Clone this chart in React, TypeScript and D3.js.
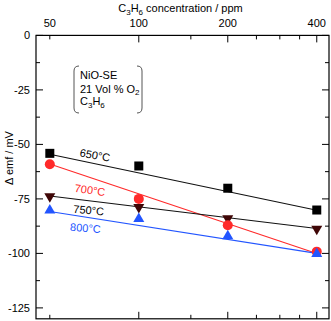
import React from 'react';
import * as d3 from 'd3';

// C3H6 concentration (ppm) and measured Δ emf (mV) per temperature
const conc = [50, 100, 200, 400];
const emf650 = [-54.1, -59.9, -70.1, -80.1];
const emf700 = [-59.1, -75.0, -87.1, -99.2];
const emf750 = [-74.4, -79.3, -84.4, -89.3];
const emf800 = [-79.8, -83.6, -91.6, -99.7];

// fitted lines, values at 50 and 400 ppm
const fitX = [50, 400];
const fit650 = [-54.5, -80.2];
const fit700 = [-59, -100];
const fit750 = [-73.7, -88.6];
const fit800 = [-80.8, -100];

const xTickLabels = [50, 100, 200, 400];
const xMajorTicks = [100, 200, 400];
const xMinorTicks = [50, 150, 250, 300, 350];
const yMajorTicks = [0, -25, -50, -75, -100, -125];
const yMinorTicks = [-12.5, -37.5, -62.5, -87.5, -112.5];

const W = 331;
const H = 321;
const left = 36, right = 329, top = 35.4, bottom = 318.8;

const x = d3.scaleLog().domain([44.9, 440]).range([left, right]);
const y = d3.scaleLinear().domain([0, -130]).range([top, bottom]);

const font = 'Liberation Sans, Arial, Helvetica, sans-serif';

const RED = '#ff2a2a';
const BLUE = '#2255ff';
const MAROON = '#3f0606';

const line = d3.line<[number, number]>().x(d => x(d[0])).y(d => y(d[1]));

const Square = ({ cx, cy }: { cx: number; cy: number }) => (
  <rect x={cx - 4.5} y={cy - 4.5} width={9} height={9} fill="#000" />
);

const triangle = (cx: number, cy: number, up: boolean) => {
  const h = 8.5, w = 5.5;
  return up
    ? `M${cx},${cy - h / 2 - 1}L${cx + w},${cy + h / 2}L${cx - w},${cy + h / 2}Z`
    : `M${cx},${cy + h / 2 + 1}L${cx + w},${cy - h / 2}L${cx - w},${cy - h / 2}Z`;
};

export default function App() {
  const fits = [
    { v: fit650, color: '#111' },
    { v: fit700, color: RED },
    { v: fit750, color: '#111' },
    { v: fit800, color: BLUE },
  ];

  const labels = [
    { text: '650°C', at: [71.1, -54.9], rot: 10, color: '#000' },
    { text: '700°C', at: [68.4, -70.9], rot: 8, color: RED },
    { text: '750°C', at: [67.7, -80.1], rot: 5, color: '#000' },
    { text: '800°C', at: [66.0, -88.3], rot: 4, color: BLUE },
  ];

  return (
    <svg width={W} height={H} style={{ position: 'absolute', left: 0, top: 0 }} fontFamily={font}>
      <rect width={W} height={H} fill="#fff" />

      {/* title */}
      <text x={180.5} y={12} fontSize={11} textAnchor="middle">
        C<tspan fontSize={8} dy={2.5}>3</tspan><tspan dy={-2.5}>H</tspan>
        <tspan fontSize={8} dy={2.5}>6</tspan><tspan dy={-2.5}> concentration / ppm</tspan>
      </text>

      {/* x tick labels (top) */}
      {xTickLabels.map(t => (
        <text key={t} x={x(t)} y={27} fontSize={11} textAnchor="middle">{t}</text>
      ))}

      {/* y tick labels */}
      {yMajorTicks.map(t => (
        <text key={t} x={30} y={y(t)} fontSize={11} textAnchor="end" dominantBaseline="central">{t}</text>
      ))}

      <text transform={`translate(9,158) rotate(-90)`} fontSize={11} textAnchor="middle" dominantBaseline="central">
        Δ emf / mV
      </text>

      {/* fitted lines */}
      {fits.map((f, i) => (
        <path key={i} d={line([[fitX[0], f.v[0]], [fitX[1], f.v[1]]]) || ''} stroke={f.color} strokeWidth={1.1} fill="none" />
      ))}

      {/* markers */}
      {conc.map((c, i) => (
        <path key={'d' + i} d={triangle(x(c), y(emf750[i]), false)} fill={MAROON} />
      ))}
      {conc.map((c, i) => (
        <circle key={'c' + i} cx={x(c)} cy={y(emf700[i])} r={5} fill={RED} />
      ))}
      {conc.map((c, i) => (
        <path key={'u' + i} d={triangle(x(c), y(emf800[i]), true)} fill={BLUE} />
      ))}
      {conc.map((c, i) => (
        <Square key={'s' + i} cx={x(c)} cy={y(emf650[i])} />
      ))}

      {/* series labels */}
      {labels.map(l => (
        <text
          key={l.text}
          transform={`translate(${x(l.at[0])},${y(l.at[1])}) rotate(${l.rot})`}
          fontSize={11}
          fill={l.color}
          textAnchor="middle"
          dominantBaseline="central"
        >
          {l.text}
        </text>
      ))}

      {/* legend box */}
      <g stroke="#555" strokeWidth={1} fill="none">
        <path d="M79,66 Q74,66 74,71 V108 Q74,113 79,113" />
        <path d="M137,66 Q142,66 142,71 V108 Q142,113 137,113" />
      </g>
      <g fontSize={11}>
        <text x={80} y={79}>NiO-SE</text>
        <text x={80} y={92.5}>
          21 Vol % O<tspan fontSize={8} dy={2.5}>2</tspan>
        </text>
        <text x={80} y={105}>
          C<tspan fontSize={8} dy={2.5}>3</tspan><tspan dy={-2.5}>H</tspan>
          <tspan fontSize={8} dy={2.5}>6</tspan>
        </text>
      </g>

      {/* axes ticks */}
      <g stroke="#000" strokeWidth={1}>
        {xMajorTicks.map(t => (
          <g key={'xm' + t}>
            <line x1={x(t)} x2={x(t)} y1={top} y2={top + 7} />
            <line x1={x(t)} x2={x(t)} y1={bottom} y2={bottom - 7} />
          </g>
        ))}
        {xMinorTicks.map(t => (
          <g key={'xn' + t}>
            <line x1={x(t)} x2={x(t)} y1={top} y2={top + 4} />
            <line x1={x(t)} x2={x(t)} y1={bottom} y2={bottom - 4} />
          </g>
        ))}
        {yMajorTicks.map(t => (
          <g key={'ym' + t}>
            <line x1={left} x2={left + 7} y1={y(t)} y2={y(t)} />
            <line x1={right} x2={right - 7} y1={y(t)} y2={y(t)} />
          </g>
        ))}
        {yMinorTicks.map(t => (
          <g key={'yn' + t}>
            <line x1={left} x2={left + 4} y1={y(t)} y2={y(t)} />
            <line x1={right} x2={right - 4} y1={y(t)} y2={y(t)} />
          </g>
        ))}
      </g>

      {/* frame */}
      <rect x={left} y={top} width={right - left} height={bottom - top} fill="none" stroke="#000" strokeWidth={1.2} />
    </svg>
  );
}
